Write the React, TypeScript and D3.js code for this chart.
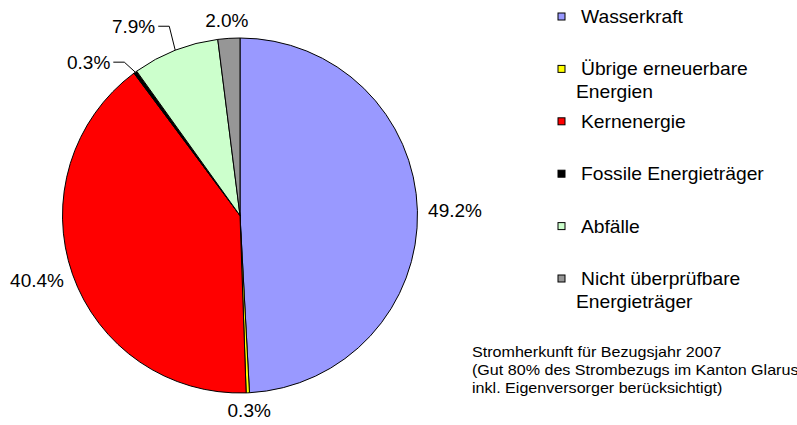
import { useMemo } from "react";
import * as d3 from "d3";

// Stromherkunft 2007 (Anteile in %)
const categories = [
  "Wasserkraft",
  "Übrige erneuerbare Energien",
  "Kernenergie",
  "Fossile Energieträger",
  "Abfälle",
  "Nicht überprüfbare Energieträger",
];
const shares = [49.2, 0.3, 40.4, 0.3, 7.9, 2.0];
const shareLabels = ["49.2%", "0.3%", "40.4%", "0.3%", "7.9%", "2.0%"];
const legendLines = [
  ["Wasserkraft"],
  ["Übrige erneuerbare", "Energien"],
  ["Kernenergie"],
  ["Fossile Energieträger"],
  ["Abfälle"],
  ["Nicht überprüfbare", "Energieträger"],
];
const colors = ["#9999ff", "#ffff00", "#ff0000", "#000000", "#ccffcc", "#969696"];
const noteLines = [
  "Stromherkunft für Bezugsjahr 2007",
  "(Gut 80% des Strombezugs im Kanton Glarus",
  "inkl. Eigenversorger berücksichtigt)",
];

const WIDTH = 797;
const HEIGHT = 425;
const CX = 240;
const CY = 215.5;
const R = 177.5;
const FONT = "'Liberation Sans', Arial, sans-serif";
const LABEL_SIZE = 19;

// labels moved out with a leader line: offset of the text end from the slice edge
const leaderOffsets: Record<number, [number, number]> = {
  3: [-25, -10],
  4: [-20, -24],
};

export default function App() {
  const arcs = useMemo(
    () =>
      d3
        .pie<number>()
        .sort(null)
        .value((d) => d)(shares),
    []
  );

  const arc = d3.arc<d3.PieArcDatum<number>>().innerRadius(0).outerRadius(R);

  const labels = arcs.map((a, i) => {
    const mid = (a.startAngle + a.endAngle) / 2;
    const s = Math.sin(mid);
    const c = Math.cos(mid);
    const text = shareLabels[i];
    const w = text.length * 0.56 * LABEL_SIZE;
    const h = LABEL_SIZE * 0.72;
    const lead = leaderOffsets[i];
    if (lead) {
      const ex = CX + R * s;
      const ey = CY - R * c;
      const tx = ex + lead[0];
      const ty = ey + lead[1];
      const elbowX = tx + 14;
      return {
        text,
        x: tx,
        y: ty,
        anchor: "end",
        leader: `M${ex},${ey}L${elbowX},${ty}L${tx + 3},${ty}`,
      };
    }
    const gap = 11;
    const px = CX + (R + gap) * s;
    const py = CY - (R + gap) * c;
    return {
      text,
      x: px + (s * w) / 2,
      y: py - (c * h) / 2,
      anchor: "middle",
      leader: null as string | null,
    };
  });

  return (
    <svg
      width={WIDTH}
      height={HEIGHT}
      style={{ position: "absolute", left: 0, top: 0, background: "#fff" }}
      fontFamily={FONT}
    >
      <g transform={`translate(${CX},${CY})`}>
        {arcs.map((a, i) => (
          <path
            key={categories[i]}
            d={arc(a) ?? ""}
            fill={colors[i]}
            stroke="#000"
            strokeWidth={1}
            strokeLinejoin="round"
          />
        ))}
      </g>

      {labels.map((l, i) => (
        <g key={i}>
          {l.leader && <path d={l.leader} fill="none" stroke="#000" strokeWidth={1} />}
          <text
            x={l.x}
            y={l.y}
            textAnchor={l.anchor}
            dominantBaseline="central"
            fontSize={LABEL_SIZE}
            fill="#000"
          >
            {l.text}
          </text>
        </g>
      ))}

      {/* legend */}
      {legendLines.map((lines, i) => {
        const yc = 16.5 + i * 52.4;
        return (
          <g key={categories[i]}>
            <rect
              x={558}
              y={yc - 3.5}
              width={7}
              height={7}
              fill={colors[i]}
              stroke="#000"
              strokeWidth={1}
            />
            {lines.map((t, j) => (
              <text
                key={j}
                transform={`translate(${j === 0 ? 581 : 576},${yc + 6.5 + j * 22.5}) scale(1.1,1)`}
                fontSize={17.5}
                fill="#000"
              >
                {t}
              </text>
            ))}
          </g>
        );
      })}

      {/* note */}
      {noteLines.map((t, i) => (
        <text
          key={i}
          transform={`translate(472,${356.7 + i * 18}) scale(1.15,1)`}
          fontSize={14}
          fill="#000"
        >
          {t}
        </text>
      ))}
    </svg>
  );
}
